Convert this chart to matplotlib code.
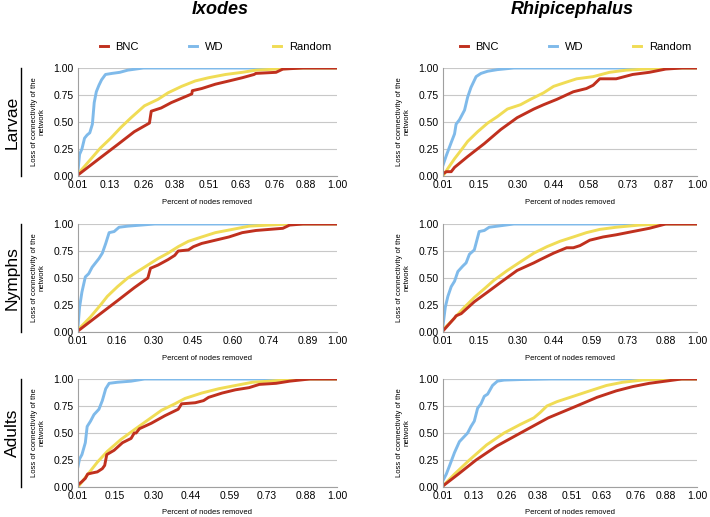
import matplotlib
matplotlib.use("Agg")
import matplotlib.pyplot as plt
from matplotlib.lines import Line2D

plt.rcParams['font.family'] = ['Liberation Sans', 'DejaVu Sans']

# colours of the three strategies
C_BNC = '#c0301e'
C_WD = '#7fbaea'
C_RND = '#f0dc55'

species = ['Ixodes', 'Rhipicephalus']
stages = ['Larvae', 'Nymphs', 'Adults']

# x tick labels per panel
ix_larvae_ticks = ['0.01', '0.13', '0.26', '0.38', '0.51', '0.63', '0.76', '0.88', '1.00']
ix_nymphs_ticks = ['0.01', '0.16', '0.30', '0.45', '0.60', '0.74', '0.89', '1.00']
ix_adults_ticks = ['0.01', '0.15', '0.30', '0.44', '0.59', '0.73', '0.88', '1.00']
rh_larvae_ticks = ['0.01', '0.15', '0.30', '0.44', '0.58', '0.73', '0.87', '1.00']
rh_nymphs_ticks = ['0.01', '0.15', '0.30', '0.44', '0.59', '0.73', '0.88', '1.00']
rh_adults_ticks = ['0.01', '0.13', '0.26', '0.38', '0.51', '0.63', '0.76', '0.88', '1.00']

# ---- Ixodes, larvae
ix_larvae_wd_x = [0.01, 0.016, 0.025, 0.035, 0.045, 0.055, 0.065, 0.072, 0.08, 0.09, 0.10, 0.115, 0.14, 0.17, 0.20, 0.26, 1.0]
ix_larvae_wd_y = [0.05, 0.20, 0.25, 0.35, 0.38, 0.40, 0.48, 0.68, 0.78, 0.84, 0.89, 0.94, 0.95, 0.96, 0.98, 1.0, 1.0]
ix_larvae_rnd_x = [0.01, 0.071, 0.096, 0.135, 0.174, 0.213, 0.264, 0.316, 0.354, 0.406, 0.458, 0.509, 0.574, 0.638, 0.69, 0.767, 0.87, 1.0]
ix_larvae_rnd_y = [0.02, 0.19, 0.26, 0.35, 0.45, 0.54, 0.65, 0.71, 0.77, 0.83, 0.88, 0.91, 0.94, 0.96, 0.98, 0.99, 1.0, 1.0]
ix_larvae_bnc_x = [0.01, 0.096, 0.161, 0.225, 0.283, 0.29, 0.328, 0.367, 0.406, 0.445, 0.447, 0.483, 0.535, 0.587, 0.638, 0.683, 0.69, 0.767, 0.793, 0.87, 1.0]
ix_larvae_bnc_y = [0.01, 0.17, 0.29, 0.41, 0.49, 0.60, 0.63, 0.68, 0.72, 0.76, 0.79, 0.81, 0.85, 0.88, 0.91, 0.94, 0.95, 0.96, 0.99, 1.0, 1.0]

# ---- Ixodes, nymphs
ix_nymphs_wd_x = [0.01, 0.016, 0.025, 0.038, 0.051, 0.064, 0.077, 0.09, 0.103, 0.116, 0.129, 0.148, 0.167, 0.20, 0.251, 0.303, 1.0]
ix_nymphs_wd_y = [0.05, 0.23, 0.37, 0.51, 0.54, 0.60, 0.64, 0.68, 0.73, 0.82, 0.92, 0.93, 0.97, 0.98, 0.99, 1.0, 1.0]
ix_nymphs_rnd_x = [0.01, 0.058, 0.096, 0.122, 0.161, 0.20, 0.238, 0.277, 0.316, 0.354, 0.393, 0.432, 0.483, 0.535, 0.60, 0.664, 0.741, 0.819, 1.0]
ix_nymphs_rnd_y = [0.02, 0.14, 0.25, 0.33, 0.42, 0.50, 0.56, 0.62, 0.68, 0.73, 0.79, 0.84, 0.88, 0.92, 0.95, 0.98, 0.99, 1.0, 1.0]
ix_nymphs_bnc_x = [0.01, 0.096, 0.161, 0.225, 0.277, 0.287, 0.316, 0.354, 0.38, 0.393, 0.432, 0.451, 0.483, 0.535, 0.587, 0.638, 0.69, 0.741, 0.793, 0.819, 0.87, 1.0]
ix_nymphs_bnc_y = [0.01, 0.17, 0.29, 0.41, 0.50, 0.59, 0.62, 0.67, 0.71, 0.75, 0.76, 0.79, 0.82, 0.85, 0.88, 0.92, 0.94, 0.95, 0.96, 0.99, 1.0, 1.0]

# ---- Ixodes, adults
ix_adults_wd_x = [0.01, 0.016, 0.025, 0.038, 0.045, 0.058, 0.071, 0.09, 0.103, 0.116, 0.129, 0.161, 0.213, 0.264, 1.0]
ix_adults_wd_y = [0.19, 0.26, 0.30, 0.41, 0.56, 0.61, 0.67, 0.72, 0.80, 0.91, 0.96, 0.97, 0.98, 1.0, 1.0]
ix_adults_rnd_x = [0.01, 0.045, 0.084, 0.122, 0.174, 0.225, 0.277, 0.329, 0.38, 0.419, 0.483, 0.548, 0.612, 0.677, 0.741, 0.845, 1.0]
ix_adults_rnd_y = [0.0, 0.11, 0.23, 0.33, 0.44, 0.53, 0.62, 0.71, 0.77, 0.82, 0.87, 0.91, 0.94, 0.97, 0.98, 1.0, 1.0]
ix_adults_bnc_x = [0.01, 0.025, 0.038, 0.047, 0.064, 0.084, 0.103, 0.112, 0.12, 0.148, 0.18, 0.213, 0.225, 0.232, 0.245, 0.29, 0.342, 0.393, 0.406, 0.458, 0.49, 0.509, 0.561, 0.612, 0.664, 0.703, 0.767, 0.819, 0.896, 1.0]
ix_adults_bnc_y = [0.02, 0.05, 0.08, 0.12, 0.13, 0.14, 0.17, 0.20, 0.30, 0.34, 0.41, 0.45, 0.50, 0.50, 0.54, 0.59, 0.66, 0.72, 0.77, 0.78, 0.80, 0.83, 0.87, 0.90, 0.92, 0.95, 0.96, 0.98, 1.0, 1.0]

# ---- Rhipicephalus, larvae
rh_larvae_wd_x = [0.01, 0.023, 0.042, 0.055, 0.061, 0.074, 0.094, 0.106, 0.119, 0.139, 0.158, 0.184, 0.222, 0.286, 1.0]
rh_larvae_wd_y = [0.10, 0.19, 0.31, 0.39, 0.48, 0.52, 0.61, 0.73, 0.82, 0.92, 0.95, 0.97, 0.985, 1.0, 1.0]
rh_larvae_rnd_x = [0.01, 0.029, 0.055, 0.081, 0.106, 0.145, 0.184, 0.222, 0.261, 0.312, 0.351, 0.402, 0.441, 0.492, 0.531, 0.595, 0.659, 0.724, 0.801, 0.878, 1.0]
rh_larvae_rnd_y = [0.0, 0.07, 0.16, 0.24, 0.32, 0.41, 0.49, 0.55, 0.62, 0.66, 0.71, 0.77, 0.83, 0.87, 0.90, 0.92, 0.96, 0.98, 0.99, 1.0, 1.0]
rh_larvae_bnc_x = [0.01, 0.023, 0.042, 0.055, 0.106, 0.171, 0.235, 0.299, 0.364, 0.402, 0.454, 0.518, 0.569, 0.595, 0.621, 0.685, 0.749, 0.814, 0.878, 0.942, 1.0]
rh_larvae_bnc_y = [0.02, 0.04, 0.04, 0.08, 0.18, 0.30, 0.43, 0.54, 0.62, 0.66, 0.71, 0.78, 0.81, 0.84, 0.90, 0.90, 0.94, 0.96, 0.99, 1.0, 1.0]

# ---- Rhipicephalus, nymphs
rh_nymphs_wd_x = [0.01, 0.019, 0.029, 0.042, 0.055, 0.068, 0.087, 0.10, 0.113, 0.132, 0.151, 0.171, 0.19, 0.222, 0.286, 1.0]
rh_nymphs_wd_y = [0.06, 0.23, 0.33, 0.42, 0.47, 0.56, 0.61, 0.64, 0.72, 0.76, 0.93, 0.94, 0.97, 0.98, 1.0, 1.0]
rh_nymphs_rnd_x = [0.01, 0.055, 0.094, 0.132, 0.171, 0.209, 0.261, 0.312, 0.364, 0.415, 0.466, 0.518, 0.569, 0.621, 0.685, 0.775, 0.878, 1.0]
rh_nymphs_rnd_y = [0.02, 0.13, 0.23, 0.32, 0.40, 0.48, 0.57, 0.65, 0.73, 0.79, 0.84, 0.88, 0.92, 0.95, 0.97, 0.99, 1.0, 1.0]
rh_nymphs_bnc_x = [0.01, 0.055, 0.061, 0.081, 0.132, 0.184, 0.235, 0.299, 0.364, 0.389, 0.441, 0.492, 0.518, 0.544, 0.582, 0.634, 0.685, 0.749, 0.814, 0.878, 1.0]
rh_nymphs_bnc_y = [0.01, 0.13, 0.15, 0.17, 0.28, 0.37, 0.46, 0.57, 0.64, 0.67, 0.73, 0.78, 0.78, 0.80, 0.85, 0.88, 0.90, 0.93, 0.96, 1.0, 1.0]

# ---- Rhipicephalus, adults
rh_adults_wd_x = [0.01, 0.023, 0.036, 0.055, 0.074, 0.094, 0.106, 0.119, 0.132, 0.145, 0.158, 0.171, 0.184, 0.203, 0.222, 0.248, 0.312, 0.428, 1.0]
rh_adults_wd_y = [0.06, 0.12, 0.20, 0.32, 0.42, 0.47, 0.50, 0.56, 0.61, 0.73, 0.77, 0.84, 0.86, 0.94, 0.98, 0.99, 0.995, 1.0, 1.0]
rh_adults_rnd_x = [0.01, 0.055, 0.113, 0.18, 0.248, 0.312, 0.364, 0.389, 0.415, 0.454, 0.518, 0.582, 0.647, 0.711, 0.788, 0.878, 1.0]
rh_adults_rnd_y = [0.01, 0.12, 0.25, 0.39, 0.50, 0.58, 0.64, 0.69, 0.75, 0.79, 0.84, 0.89, 0.94, 0.97, 0.99, 1.0, 1.0]
rh_adults_bnc_x = [0.01, 0.07, 0.139, 0.22, 0.312, 0.42, 0.531, 0.61, 0.685, 0.75, 0.814, 0.94, 1.0]
rh_adults_bnc_y = [0.01, 0.12, 0.25, 0.38, 0.50, 0.64, 0.75, 0.83, 0.89, 0.93, 0.96, 1.0, 1.0]

panels = [
    [(ix_larvae_ticks, ix_larvae_bnc_x, ix_larvae_bnc_y, ix_larvae_wd_x, ix_larvae_wd_y, ix_larvae_rnd_x, ix_larvae_rnd_y),
     (rh_larvae_ticks, rh_larvae_bnc_x, rh_larvae_bnc_y, rh_larvae_wd_x, rh_larvae_wd_y, rh_larvae_rnd_x, rh_larvae_rnd_y)],
    [(ix_nymphs_ticks, ix_nymphs_bnc_x, ix_nymphs_bnc_y, ix_nymphs_wd_x, ix_nymphs_wd_y, ix_nymphs_rnd_x, ix_nymphs_rnd_y),
     (rh_nymphs_ticks, rh_nymphs_bnc_x, rh_nymphs_bnc_y, rh_nymphs_wd_x, rh_nymphs_wd_y, rh_nymphs_rnd_x, rh_nymphs_rnd_y)],
    [(ix_adults_ticks, ix_adults_bnc_x, ix_adults_bnc_y, ix_adults_wd_x, ix_adults_wd_y, ix_adults_rnd_x, ix_adults_rnd_y),
     (rh_adults_ticks, rh_adults_bnc_x, rh_adults_bnc_y, rh_adults_wd_x, rh_adults_wd_y, rh_adults_rnd_x, rh_adults_rnd_y)],
]

W, H = 710, 517
fig = plt.figure(figsize=(W / 100, H / 100), dpi=100)

col_left = [78, 443]
col_width = [259, 254]
row_top = [68, 224, 379]
row_h = 108
title_x = [220, 572]
legend_x = [0.085, 0.067]

lw = 2.1
for r in range(3):
    for c in range(2):
        ticks, bx, by, wx, wy, rx, ry = panels[r][c]
        ax = fig.add_axes([col_left[c] / W, 1 - (row_top[r] + row_h) / H,
                           col_width[c] / W, row_h / H])
        ax.plot(wx, wy, color=C_WD, lw=lw, solid_joinstyle='round')
        ax.plot(rx, ry, color=C_RND, lw=lw, solid_joinstyle='round')
        ax.plot(bx, by, color=C_BNC, lw=lw, solid_joinstyle='round')
        tick_pos = [float(t) for t in ticks]
        ax.set_xticks(tick_pos)
        ax.set_xticklabels(ticks, fontsize=7.5)
        ax.set_xlim(tick_pos[0], tick_pos[-1])
        ax.set_ylim(0, 1.0)
        ax.set_yticks([0, 0.25, 0.5, 0.75, 1.0])
        ax.set_yticklabels(['0.00', '0.25', '0.50', '0.75', '1.00'], fontsize=7.5)
        ax.tick_params(length=0, pad=3)
        ax.grid(axis='y', color='#c8c8c8', lw=0.8)
        ax.set_axisbelow(True)
        for s in ['top', 'right']:
            ax.spines[s].set_visible(False)
        ax.spines['left'].set_color('#a0a0a0')
        ax.spines['bottom'].set_color('#a0a0a0')
        ax.set_xlabel('Percent of nodes removed', fontsize=5.5, labelpad=6)
        ax.set_ylabel('Loss of connectivity of the\nnetwork', fontsize=5.5, labelpad=6,
                      linespacing=1.0)
        if r == 0:
            handles = [Line2D([], [], color=C_BNC, lw=lw),
                       Line2D([], [], color=C_WD, lw=lw),
                       Line2D([], [], color=C_RND, lw=lw)]
            ax.legend(handles, ['BNC', 'WD', 'Random'], loc='lower left',
                      bbox_to_anchor=(legend_x[c], 1.15), ncol=3, frameon=False,
                      fontsize=8, handlelength=0.7, columnspacing=4.5,
                      handletextpad=0.7, borderpad=0, borderaxespad=0)
            fig.text(title_x[c] / W, 1 - 9 / H, species[c], fontsize=13,
                     fontweight='bold', fontstyle='italic', ha='center', va='center')

    # stage label with a vertical rule next to it
    yc = 1 - (row_top[r] + row_h / 2) / H
    fig.text(12 / W, yc, stages[r], rotation=90, fontsize=12.5,
             ha='center', va='center')
    fig.add_artist(Line2D([21 / W, 21 / W],
                          [1 - (row_top[r] + row_h) / H, 1 - row_top[r] / H],
                          color='black', lw=1.0))

fig.savefig('out.png', dpi=100)
